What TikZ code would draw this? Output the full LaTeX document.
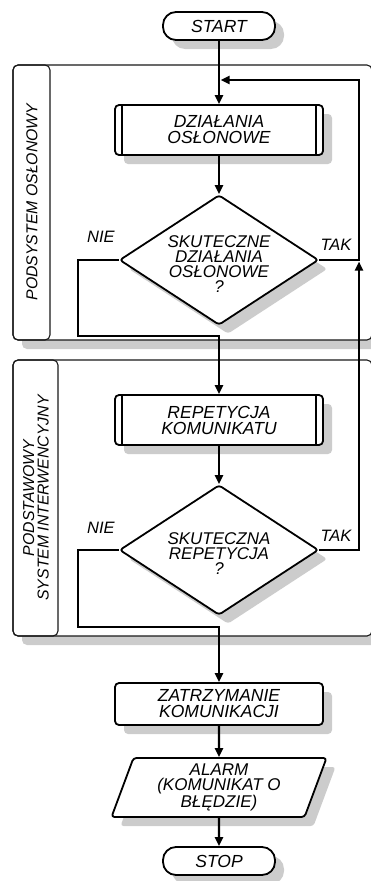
\documentclass[tikz,border=0pt]{standalone}
\usepackage{fontspec}
\setmainfont{Liberation Sans}
\usetikzlibrary{arrows.meta,shapes.geometric,shadows}
\begin{document}
\begin{tikzpicture}[x=1pt,y=-1pt,
  box shadow/.style={drop shadow={shadow xshift=9pt,shadow yshift=-9pt,fill=gray!40,opacity=1}},
  base/.style={draw=black,line width=1.8pt,fill=white,box shadow,inner sep=0pt,align=center,
    font=\fontsize{17.5}{16}\selectfont\itshape},
  term/.style={base,rounded corners=13pt,minimum width=112pt,minimum height=28pt},
  proc/.style={base,rounded corners=4pt,minimum width=208pt,minimum height=50pt},
  decision/.style={base,diamond,rounded corners=3pt,minimum width=199pt,minimum height=130pt},
  dtext/.style={align=center,inner sep=0pt,font=\fontsize{17}{15}\selectfont\itshape},
  io/.style={base,trapezium,trapezium left angle=65,trapezium right angle=115,
    trapezium stretches body,rounded corners=3pt,minimum width=215pt,minimum height=59pt,
    font=\fontsize{17}{15}\selectfont\itshape},
  bar/.style={line width=1.8pt},
  flow/.style={line width=2.4pt,-{Triangle[length=9pt,width=8pt]}},
  lane/.style={draw=black!90,line width=1.1pt,rounded corners=5pt},
  laneshadow/.style={fill=gray!40,rounded corners=5pt},
  lanetext/.style={rotate=90,align=center,inner sep=0pt,font=\fontsize{15.8}{14.5}\selectfont\itshape},
  answer/.style={inner sep=0pt,font=\fontsize{16.5}{16}\selectfont\itshape}
]
\useasboundingbox (0,0) rectangle (371,881);

% swimlanes
\fill[laneshadow] (22,74) rectangle (381,349);
\draw[lane,fill=white] (13,65) rectangle (372,340);
\draw[lane] (13,65) rectangle (50,340);
\node[lanetext] (lane1) at (32,202) {PODSYSTEM OSŁONOWY};

\fill[laneshadow] (22,369) rectangle (381,645);
\draw[lane,fill=white] (13,360) rectangle (372,636);
\draw[lane] (13,360) rectangle (58,636);
\node[lanetext] (lane2) at (36,498) {PODSTAWOWY\\SYSTEM INTERWENCYJNY};

% flowchart nodes
\node[term] (start) at (219,26) {START};
\node[proc] (act) at (219,130) {DZIAŁANIA\\OSŁONOWE};
\draw[bar] ([xshift=8pt]act.north west) -- ([xshift=8pt]act.south west);
\draw[bar] ([xshift=-8pt]act.north east) -- ([xshift=-8pt]act.south east);

\node[decision] (d1) at (219,260) {};
\node[dtext] (d1t) at ([yshift=-4pt]d1.center) {SKUTECZNE\\DZIAŁANIA\\OSŁONOWE\\?};

\node[proc] (rep) at (219,420) {REPETYCJA\\KOMUNIKATU};
\draw[bar] ([xshift=8pt]rep.north west) -- ([xshift=8pt]rep.south west);
\draw[bar] ([xshift=-8pt]rep.north east) -- ([xshift=-8pt]rep.south east);

\node[decision] (d2) at (219,550) {};
\node[dtext] (d2t) at ([yshift=-4pt]d2.center) {SKUTECZNA\\REPETYCJA\\?};

\node[proc,minimum height=42pt] (halt) at (219,704) {ZATRZYMANIE\\KOMUNIKACJI};
\node[io] (alarm) at (219,787.5) {ALARM\\(KOMUNIKAT O\\BŁĘDZIE)};
\node[term] (stop) at (219,861) {STOP};

% answer labels
\node[answer] (nie1) at (101,237) {NIE};
\node[answer] (tak1) at (336,245) {TAK};
\node[answer] (nie2) at (101,528) {NIE};
\node[answer] (tak2) at (336,536) {TAK};

% bend points
\coordinate (t1) at (359,260);
\coordinate (t1top) at (359,80);
\coordinate (j1) at (220.5,80);
\coordinate (t2) at (359,550);
\coordinate (j2) at (359,261.5);
\coordinate (n1a) at (78,260);
\coordinate (n1b) at (78,336);
\coordinate (n1c) at (219,336);
\coordinate (n2a) at (78,550);
\coordinate (n2b) at (78,627);
\coordinate (n2c) at (219,627);

% connectors
\draw[flow] (start) -- (act);
\draw[flow] (act) -- (d1);
\draw[flow] (d1.east) -- (t1) -- (t1top) -- (j1);
\draw[flow] (d1.west) -- (n1a) -- (n1b) -- (n1c) -- (rep.north);
\draw[flow] (rep) -- (d2);
\draw[flow] (d2.east) -- (t2) -- (j2);
\draw[flow] (d2.west) -- (n2a) -- (n2b) -- (n2c) -- (halt.north);
\draw[flow] (halt) -- (alarm);
\draw[flow] (alarm) -- (stop);
\end{tikzpicture}
\end{document}
